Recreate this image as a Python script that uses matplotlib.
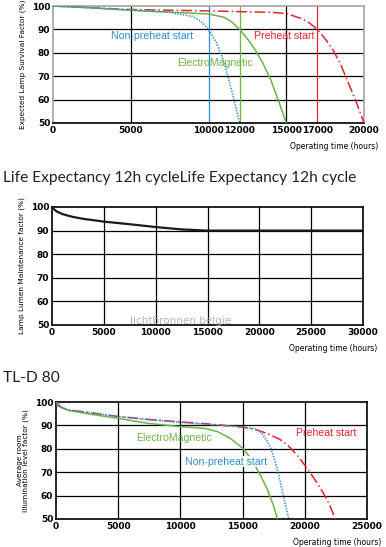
import matplotlib.pyplot as plt
import numpy as np

# ---- data: survival factor (top chart)
surv_np_x = [0, 2500, 5000, 7500, 9000, 9500, 10000, 10500, 11000, 11200, 11600, 12000]
surv_np_y = [100, 99.2, 98.2, 97.3, 95.5, 93.5, 90, 84.5, 76, 71, 61, 50]
surv_em_x = [0, 2500, 5000, 7500, 10000, 11000, 11500, 12000, 12500, 13000, 13500, 14000, 14500, 15000]
surv_em_y = [100, 99.2, 98.2, 97.4, 96.6, 95.2, 93.2, 90, 86, 81.3, 75.5, 68.5, 59.5, 50]
surv_ph_x = [0, 5000, 10000, 14000, 15000, 16000, 16500, 17000, 17500, 18000, 18500, 19000, 19500, 20000]
surv_ph_y = [100, 98.5, 97.9, 97.3, 96.8, 94.6, 92.7, 90, 86, 81.3, 75, 67, 59, 50]
surv_ticks = [0, 5000, 10000, 12000, 15000, 17000, 20000]

# ---- data: lumen maintenance (middle chart)
lm_x = [0, 250, 500, 1000, 2000, 3000, 5000, 7500, 10000, 12500, 15000, 20000, 25000, 30000]
lm_y = [100, 98.8, 98.0, 97.0, 95.8, 95.0, 93.8, 92.7, 91.5, 90.5, 90, 90, 90, 90]
lm_ticks = [0, 5000, 10000, 15000, 20000, 25000, 30000]

# ---- data: room illumination factor (bottom chart)
ri_em_x = [0, 500, 1000, 2500, 5000, 7500, 10000, 12000, 13000, 14000, 15000, 15500, 16000, 16500, 17000, 17500, 17800]
ri_em_y = [100, 97.6, 96.4, 95.0, 93.0, 90.8, 89.5, 88.7, 87.3, 84.5, 80.3, 77, 72.8, 68, 62.5, 55.5, 50]
ri_np_x = [0, 500, 1000, 2500, 5000, 7500, 10000, 12500, 15000, 16000, 16500, 17000, 17250, 17500, 17750, 18000, 18250, 18500, 18750]
ri_np_y = [99, 97.5, 96.6, 95.6, 93.8, 92.5, 91.3, 90.3, 89.3, 88.5, 87, 83, 80.5, 76.5, 72, 66.5, 60.5, 54.5, 49.5]
ri_ph_x = [0, 500, 1000, 2500, 5000, 7500, 10000, 12500, 15000, 16000, 17000, 18000, 18600, 19000, 19500, 20000, 20500, 21000, 21500, 22000, 22450]
ri_ph_y = [99, 97.5, 96.6, 95.6, 93.8, 92.5, 91.5, 90.5, 89.3, 88.3, 86.5, 84, 81.7, 79.5, 76.5, 73, 69.3, 65.3, 61, 56, 50]
ri_ticks = [0, 5000, 10000, 15000, 20000, 25000]

y_ticks = [50, 60, 70, 80, 90, 100]

BLUE = "#2b8fd3"
GREEN = "#6cb443"
RED = "#e8232d"
GREY = "#a8a2a2"
DOTTED = (0, (0.8, 0.9))
DASHDOT = (0, (7, 2, 1, 2))

fig = plt.figure(figsize=(3.86, 5.47), dpi=100)
W = 311 / 386


def style_axes(ax, xmax, xticks, ylabel, spine_color="black"):
    ax.set_xlim(0, xmax)
    ax.set_ylim(50, 100)
    ax.set_xticks(xticks)
    ax.set_yticks(y_ticks)
    ax.tick_params(length=0, pad=2, labelsize=6.5)
    for lab in ax.get_xticklabels() + ax.get_yticklabels():
        lab.set_fontweight("bold")
    for s in ["top", "right", "left"]:
        ax.spines[s].set_color(spine_color)
        ax.spines[s].set_linewidth(1.2)
    ax.spines["bottom"].set_linewidth(1.2)
    for v in y_ticks[1:-1]:
        ax.axhline(v, color="black", lw=0.9, zorder=1)
    ax.set_ylabel(ylabel, fontsize=5.3, labelpad=4, linespacing=1.0)
    ax.text(1.045, -0.16, "Operating time (hours)", transform=ax.transAxes,
            ha="right", va="top", fontsize=5.5)


# ---- top chart
ax1 = fig.add_axes([53 / 386, 1 - 123 / 547, W, 117 / 547])
style_axes(ax1, 20000, surv_ticks, "Expected Lamp Survival Factor (%)", spine_color=GREY)
vline_colors = [None, "black", BLUE, GREEN, "black", RED, None]
for t, c in zip(surv_ticks, vline_colors):
    if c:
        ax1.axvline(t, color=c, lw=0.9, zorder=1)
ax1.plot(surv_ph_x, surv_ph_y, color=RED, lw=1.1, ls=DASHDOT, zorder=3)
ax1.plot(surv_em_x, surv_em_y, color=GREEN, lw=1.1, zorder=4)
ax1.plot(surv_np_x, surv_np_y, color=BLUE, lw=1.2, ls=DOTTED, zorder=5)
ax1.text(6400, 87, "Non-preheat start", color=BLUE, fontsize=7.6, ha="center", va="center",
         family="Liberation Sans")
ax1.text(14850, 87, "Preheat start", color=RED, fontsize=7.6, ha="center", va="center",
         family="Liberation Sans")
ax1.text(10420, 75.5, "ElectroMagnetic", color=GREEN, fontsize=7.6, ha="center", va="center",
         family="Liberation Sans")

# ---- middle chart
fig.text(3 / 386, 1 - 178 / 547, "Life Expectancy 12h cycleLife Expectancy 12h cycle",
         fontsize=11.2, family="Lato", color="#222222", va="center", ha="left")
ax2 = fig.add_axes([52 / 386, 1 - 325 / 547, W, 118 / 547])
style_axes(ax2, 30000, lm_ticks, "Lamp Lumen Maintenance factor (%)")
for t in lm_ticks[1:-1]:
    ax2.axvline(t, color="black", lw=0.9, zorder=1)
ax2.plot(lm_x, lm_y, color="#1a1a1a", lw=1.6, zorder=3)
fig.text(181 / 386, 1 - 321 / 547, "lichtbronnen.belgie", color="#b5b5b5",
         fontsize=7.5, ha="center", va="center")

# ---- bottom chart
fig.text(3 / 386, 1 - 378 / 547, "TL-D 80", fontsize=11.2, family="Lato",
         color="#222222", va="center", ha="left")
ax3 = fig.add_axes([56 / 386, 1 - 519 / 547, W, 117 / 547])
style_axes(ax3, 25000, ri_ticks, "Average room\nillumination level factor (%)")
for t in ri_ticks[1:-1]:
    ax3.axvline(t, color="black", lw=0.9, zorder=1)
ax3.plot(ri_ph_x, ri_ph_y, color=RED, lw=1.1, ls=DASHDOT, zorder=3)
ax3.plot(ri_em_x, ri_em_y, color=GREEN, lw=1.1, zorder=4)
ax3.plot(ri_np_x, ri_np_y, color=BLUE, lw=1.2, ls=DOTTED, zorder=5)
box = dict(facecolor="white", edgecolor="none", pad=0.5)
ax3.text(9490, 84.6, "ElectroMagnetic", color=GREEN, fontsize=7.6, ha="center", va="center",
         family="Liberation Sans", zorder=6)
ax3.text(21680, 86.6, "Preheat start", color=RED, fontsize=7.6, ha="center", va="center",
         family="Liberation Sans", zorder=6)
ax3.text(13670, 74.5, "Non-preheat start", color=BLUE, fontsize=7.6, ha="center", va="center",
         family="Liberation Sans", bbox=box, zorder=6)

fig.savefig("out.png", dpi=100)
